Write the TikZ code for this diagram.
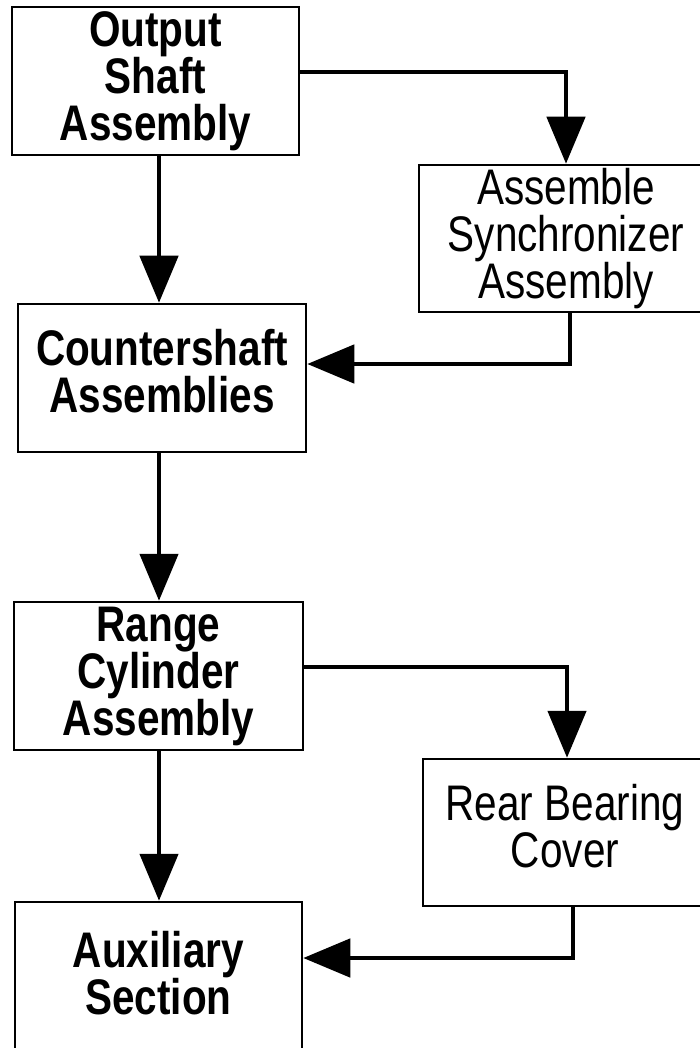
\documentclass[tikz,border=0pt]{standalone}
\usepackage{fontspec}
\setmainfont{Liberation Sans}[FakeStretch=0.81]
\usetikzlibrary{arrows.meta}
\tikzset{
  box/.style={draw=black, line width=2.5pt, fill=white, align=center, inner sep=0pt,
    font=\fontsize{50}{47}\selectfont},
  bbox/.style={box, font=\bfseries\fontsize{50}{47}\selectfont},
  flow/.style={line width=4.8pt, -{Triangle[length=47pt,width=38pt]}}
}
\begin{document}
\begin{tikzpicture}[x=1pt,y=-1pt]
\useasboundingbox (0,0) rectangle (700,1048);
\clip (0,0) rectangle (700,1048);
\fill[white] (0,0) rectangle (700,1048);
% boxes
\node[bbox, minimum width=287pt, minimum height=148pt] (b1) at (155.5,81) {Output\\Shaft\\Assembly};
\node[box, minimum width=294pt, minimum height=147pt] (b2) at (566,238.5) {Assemble\\Synchronizer\\Assembly};
\node[bbox, minimum width=288pt, minimum height=148pt, text depth=14pt] (b3) at (162,378) {Countershaft\\Assemblies};
\node[bbox, minimum width=289pt, minimum height=148pt] (b4) at (158.5,676) {Range\\Cylinder\\Assembly};
\node[box, minimum width=284pt, minimum height=147pt, text depth=13pt] (b5) at (565,832.5) {Rear Bearing\\Cover};
\node[bbox, minimum width=287pt, minimum height=158pt, text depth=16pt] (b6) at (158.5,981) {Auxiliary\\Section};
% connector corners
\coordinate (c1) at (566,72);
\coordinate (c2) at (570,364);
\coordinate (c3) at (567,667);
\coordinate (c4) at (573,958);
% connectors
\draw[flow] (b1.east |- c1) -- (c1) -- (b2.north);
\draw[flow] (b2.south -| c2) -- (c2) -- (b3.east |- c2);
\draw[flow] (b1.south -| 159,0) -- (b3.north -| 159,0);
\draw[flow] (b3.south -| 159,0) -- (b4.north -| 159,0);
\draw[flow] (b4.east |- c3) -- (c3) -- (b5.north -| c3);
\draw[flow] (b5.south -| c4) -- (c4) -- (b6.east |- c4);
\draw[flow] (b4.south -| 159,0) -- (b6.north -| 159,0);
\end{tikzpicture}
\end{document}
